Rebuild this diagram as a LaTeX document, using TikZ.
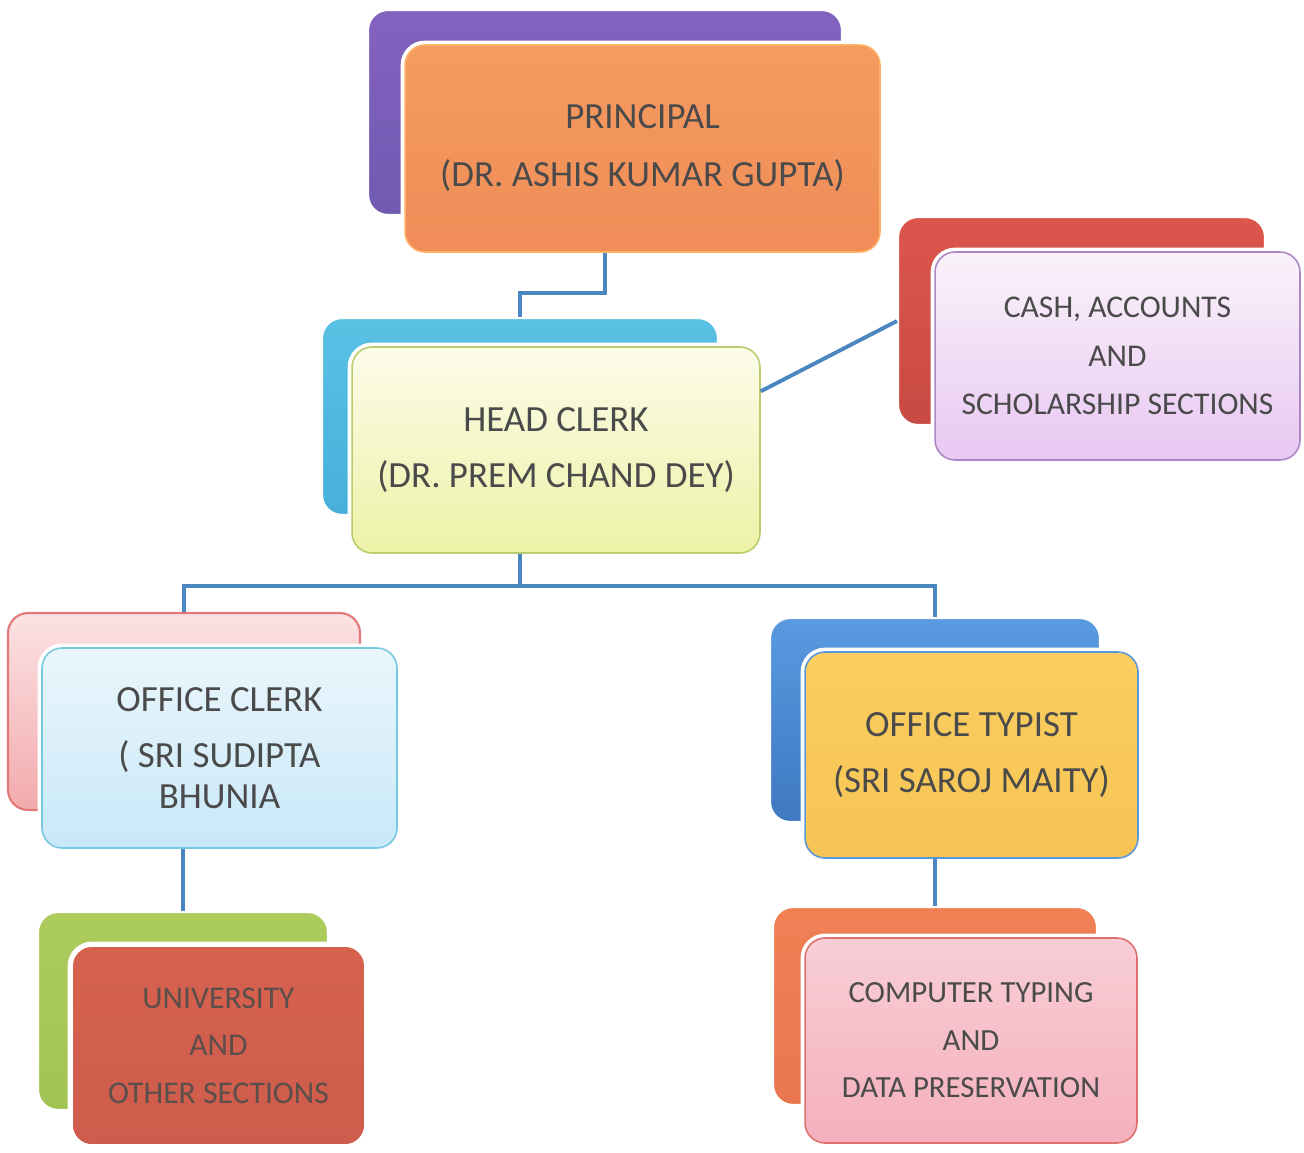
\documentclass[tikz,border=0pt]{standalone}
\usepackage{fontspec}
\setmainfont{Carlito}
\usetikzlibrary{positioning}

\definecolor{txtgray}{HTML}{4A4A4A}
\definecolor{linkblue}{HTML}{4A86C0}

\begin{document}
\begin{tikzpicture}[x=0.02cm,y=-0.02cm,
  every node/.style={inner sep=0pt},
  back/.style={rounded corners=0.4cm, draw=white, line width=1.2pt},
  front/.style={rounded corners=0.4cm, line width=0.9pt, align=center, text=txtgray,
    preaction={draw=white, line width=5pt}},
  link/.style={draw=linkblue, line width=2.2pt}]
\fill [white] (0,0) rectangle (1304,1152);
\useasboundingbox (0,0) rectangle (1304,1152);
% principal
\node [back, top color={rgb,255:red,132;green,98;blue,192}, bottom color={rgb,255:red,112;green,90;blue,178},
  minimum width=9.48cm, minimum height=4.10cm] (prinB) at (605,112.5) {};
\node [front, draw=orange!60, top color={rgb,255:red,244;green,156;blue,96},
  bottom color={rgb,255:red,240;green,140;blue,88},
  minimum width=9.50cm, minimum height=4.14cm,
  font=\fontsize{21}{33}\selectfont] (prinF) at (642.5,148.5)
  {PRINCIPAL\\(DR. ASHIS KUMAR GUPTA)};
% head clerk
\node [back, top color={rgb,255:red,90;green,192;blue,228}, bottom color={rgb,255:red,70;green,176;blue,220},
  minimum width=7.92cm, minimum height=3.94cm] (hcB) at (520,416.5) {};
\node [front, draw={rgb,255:red,184;green,204;blue,112}, top color={rgb,255:red,252;green,252;blue,234},
  bottom color={rgb,255:red,236;green,242;blue,166},
  minimum width=8.16cm, minimum height=4.12cm,
  font=\fontsize{21}{32}\selectfont] (hcF) at (556,450)
  {HEAD CLERK\\(DR. PREM CHAND DEY)};
% cash
\node [back, top color={rgb,255:red,220;green,86;blue,76}, bottom color={rgb,255:red,200;green,74;blue,68},
  minimum width=7.34cm, minimum height=4.16cm] (cashB) at (1081.5,321) {};
\node [front, draw={rgb,255:red,170;green,136;blue,200}, top color={rgb,255:red,250;green,242;blue,250},
  bottom color={rgb,255:red,232;green,200;blue,242},
  minimum width=7.30cm, minimum height=4.16cm,
  font=\fontsize{18}{27.5}\selectfont] (cashF) at (1117.5,356)
  {CASH, ACCOUNTS\\AND\\SCHOLARSHIP SECTIONS};
% office clerk
\node [back, draw={rgb,255:red,226;green,120;blue,120}, top color={rgb,255:red,252;green,226;blue,228},
  bottom color={rgb,255:red,242;green,170;blue,172},
  minimum width=7.04cm, minimum height=3.94cm] (ocB) at (184,711.5) {};
\node [front, draw={rgb,255:red,120;green,200;blue,224}, top color={rgb,255:red,234;green,246;blue,252},
  bottom color={rgb,255:red,200;green,232;blue,248},
  minimum width=7.10cm, minimum height=4.00cm,
  font=\fontsize{21}{23}\selectfont] (ocF) at (219.5,748)
  {OFFICE CLERK\\[9pt]( SRI SUDIPTA\\BHUNIA};
% office typist
\node [back, top color={rgb,255:red,90;green,154;blue,224}, bottom color={rgb,255:red,62;green,120;blue,192},
  minimum width=6.60cm, minimum height=4.08cm] (otB) at (935,720) {};
\node [front, draw={rgb,255:red,90;green,152;blue,216}, top color={rgb,255:red,250;green,206;blue,96},
  bottom color={rgb,255:red,246;green,196;blue,84},
  minimum width=6.66cm, minimum height=4.12cm,
  font=\fontsize{21}{32}\selectfont] (otF) at (971.5,755)
  {OFFICE TYPIST\\(SRI SAROJ MAITY)};
% university
\node [back, top color={rgb,255:red,172;green,204;blue,92}, bottom color={rgb,255:red,160;green,196;blue,84},
  minimum width=5.80cm, minimum height=3.96cm] (uniB) at (183,1011) {};
\node [front, draw=white, top color={rgb,255:red,214;green,98;blue,78},
  bottom color={rgb,255:red,206;green,92;blue,76},
  minimum width=5.86cm, minimum height=3.98cm, text={rgb,255:red,92;green,78;blue,74},
  font=\fontsize{18}{27}\selectfont] (uniF) at (218.5,1045.5)
  {UNIVERSITY\\AND\\OTHER SECTIONS};
% computer typing
\node [back, top color={rgb,255:red,240;green,128;blue,84}, bottom color={rgb,255:red,234;green,118;blue,80},
  minimum width=6.48cm, minimum height=3.96cm] (ctB) at (935,1006) {};
\node [front, draw={rgb,255:red,224;green,112;blue,112}, top color={rgb,255:red,248;green,206;blue,214},
  bottom color={rgb,255:red,244;green,176;blue,188},
  minimum width=6.64cm, minimum height=4.10cm,
  font=\fontsize{17.5}{27}\selectfont] (ctF) at (971,1040.5)
  {COMPUTER TYPING\\AND\\DATA PRESERVATION};
% connectors
\draw [link] (prinB.center |- prinF.south) -- ++(0,40) -| (hcB.north);
\draw [link] (hcF.16) -- (cashB.west);
\draw [link] (hcB.center |- hcF.south) -- ++(0,32) coordinate (split);
\draw [link] (split) -| (ocB.north);
\draw [link] (split) -| (otB.north);
\draw [link] (ocF.south -| uniB.north) -- (uniB.north);
\draw [link] (otF.south -| ctB.north) -- (ctB.north);
\end{tikzpicture}
\end{document}
